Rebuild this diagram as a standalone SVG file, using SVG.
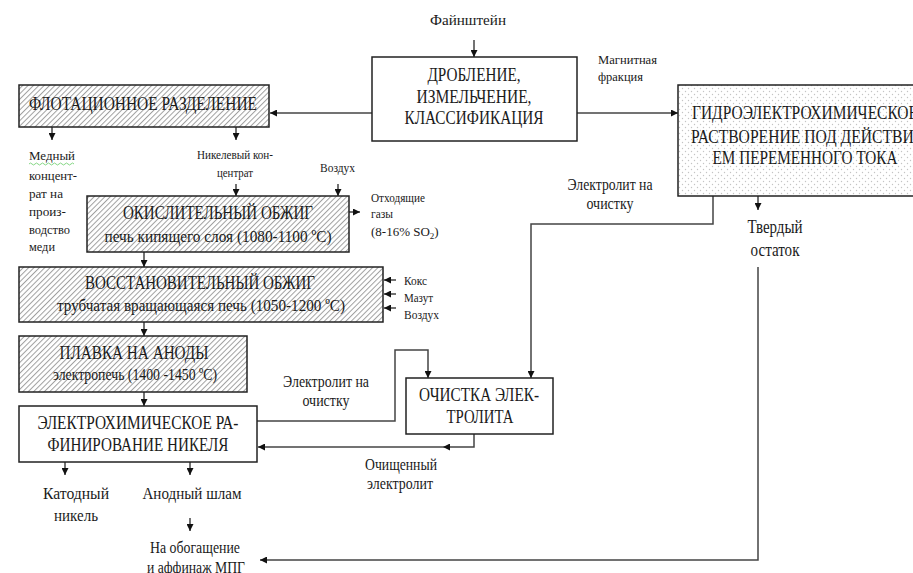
<svg xmlns="http://www.w3.org/2000/svg" width="913" height="573" viewBox="0 0 913 573" font-family="'Liberation Serif', 'DejaVu Serif', serif">
<style>
text{font-family:"Liberation Serif","DejaVu Serif",serif;fill:#1a1a1a}
.b{font-size:19px}
.m{font-size:17px}
.s{font-size:13px}
.l{font-size:16px}
.box{stroke:#222;stroke-width:1.5}
.c{fill:none;stroke:#444;stroke-width:1.5}
</style>
<defs>
<pattern id="hatch" patternUnits="userSpaceOnUse" width="3.8" height="8" patternTransform="rotate(45)">
<rect width="3.8" height="8" fill="#fff"/>
<line x1="0.5" y1="0" x2="0.5" y2="8" stroke="#a0a0a0" stroke-width="1"/>
</pattern>
<pattern id="dots" patternUnits="userSpaceOnUse" width="6" height="6">
<rect width="6" height="6" fill="#fff"/>
<circle cx="1.5" cy="1.5" r="0.7" fill="#c4c4c4"/>
<circle cx="4.5" cy="4.5" r="0.7" fill="#c4c4c4"/>
</pattern>
<marker id="ah" viewBox="0 0 10 10" refX="10" refY="5" markerWidth="7" markerHeight="7" markerUnits="userSpaceOnUse" orient="auto">
<path d="M0,0 L10,5 L0,10 z" fill="#111"/>
</marker>
</defs>
<rect width="913" height="573" fill="#fff"/>

<g id="connectors">
<line class="c" x1="474" y1="40" x2="474" y2="57" marker-end="url(#ah)"/>
<line class="c" x1="372" y1="113" x2="270" y2="113" marker-end="url(#ah)"/>
<line class="c" x1="577" y1="113" x2="678" y2="113" marker-end="url(#ah)"/>
<line class="c" x1="52" y1="127" x2="52" y2="140" marker-end="url(#ah)"/>
<line class="c" x1="236" y1="127" x2="236" y2="140" marker-end="url(#ah)"/>
<line class="c" x1="236" y1="184" x2="236" y2="196" marker-end="url(#ah)"/>
<line class="c" x1="338" y1="184" x2="338" y2="196" marker-end="url(#ah)"/>
<line class="c" x1="349" y1="212" x2="360" y2="212" marker-end="url(#ah)"/>
<line class="c" x1="144" y1="252" x2="144" y2="267" marker-end="url(#ah)"/>
<line class="c" x1="396" y1="280" x2="384" y2="280" marker-end="url(#ah)"/>
<line class="c" x1="396" y1="294" x2="384" y2="294" marker-end="url(#ah)"/>
<line class="c" x1="396" y1="308" x2="384" y2="308" marker-end="url(#ah)"/>
<line class="c" x1="144" y1="322" x2="144" y2="336" marker-end="url(#ah)"/>
<line class="c" x1="144" y1="392" x2="144" y2="406" marker-end="url(#ah)"/>
<line class="c" x1="65" y1="462" x2="65" y2="475" marker-end="url(#ah)"/>
<line class="c" x1="190" y1="462" x2="190" y2="475" marker-end="url(#ah)"/>
<line class="c" x1="190" y1="518" x2="190" y2="531" marker-end="url(#ah)"/>
<polyline class="c" points="257,421 395,421 395,350 428,350 428,378" marker-end="url(#ah)"/>
<polyline class="c" points="474,434 474,447 443,447" marker-end="url(#ah)"/>
<line class="c" x1="443" y1="447" x2="258" y2="447" marker-end="url(#ah)"/>
<polyline class="c" points="713,196 713,224 531,224 531,378" marker-end="url(#ah)"/>
<line class="c" x1="758" y1="196" x2="758" y2="210" marker-end="url(#ah)"/>
<polyline class="c" points="758,267 758,560 260,560" marker-end="url(#ah)"/>
</g>

<g id="n-feed">
<text class="s" x="468" y="25" text-anchor="middle" textLength="76" lengthAdjust="spacingAndGlyphs" style="font-size:14px">Файнштейн</text>
</g>

<g id="n-crush">
<rect class="box" x="372" y="57" width="205" height="84" fill="#fff"/>
<text class="b" x="474" y="81" text-anchor="middle" textLength="93" lengthAdjust="spacingAndGlyphs">ДРОБЛЕНИЕ,</text>
<text class="b" x="474" y="103" text-anchor="middle" textLength="115" lengthAdjust="spacingAndGlyphs">ИЗМЕЛЬЧЕНИЕ,</text>
<text class="b" x="474" y="124" text-anchor="middle" textLength="139" lengthAdjust="spacingAndGlyphs">КЛАССИФИКАЦИЯ</text>
</g>

<g id="l-magn">
<text class="s" x="598" y="64" textLength="59" lengthAdjust="spacingAndGlyphs">Магнитная</text>
<text class="s" x="598" y="81" textLength="45" lengthAdjust="spacingAndGlyphs">фракция</text>
</g>

<g id="n-flot">
<rect class="box" x="19" y="85" width="250" height="42" fill="url(#hatch)"/>
<text class="b" x="143" y="110" text-anchor="middle" textLength="228" lengthAdjust="spacingAndGlyphs">ФЛОТАЦИОННОЕ РАЗДЕЛЕНИЕ</text>
</g>

<g id="n-hydro">
<rect class="box" x="678" y="85" width="260" height="111" fill="url(#dots)"/>
<text class="b" x="805" y="119" text-anchor="middle" textLength="226" lengthAdjust="spacingAndGlyphs">ГИДРОЭЛЕКТРОХИМИЧЕСКОЕ</text>
<text class="b" x="805" y="143" text-anchor="middle" textLength="228" lengthAdjust="spacingAndGlyphs">РАСТВОРЕНИЕ ПОД ДЕЙСТВИ-</text>
<text class="b" x="805" y="164" text-anchor="middle" textLength="185" lengthAdjust="spacingAndGlyphs">ЕМ ПЕРЕМЕННОГО ТОКА</text>
</g>

<g id="l-copper">
<text class="s" x="29" y="160" textLength="46" lengthAdjust="spacingAndGlyphs">Медный</text>
<path d="M29,164 q1.5,-2 3,0 t3,0 t3,0 t3,0 t3,0 t3,0 t3,0 t3,0 t3,0 t3,0 t3,0 t3,0 t3,0 t3,0 t3,0" fill="none" stroke="#6c6" stroke-width="0.8"/>
<text class="s" x="29" y="180" textLength="48" lengthAdjust="spacingAndGlyphs">концент-</text>
<text class="s" x="29" y="198" textLength="34" lengthAdjust="spacingAndGlyphs">рат на</text>
<text class="s" x="29" y="216" textLength="37" lengthAdjust="spacingAndGlyphs">произ-</text>
<text class="s" x="29" y="234" textLength="41" lengthAdjust="spacingAndGlyphs">водство</text>
<text class="s" x="29" y="251" textLength="26" lengthAdjust="spacingAndGlyphs">меди</text>
</g>

<g id="l-nickel">
<text class="s" x="235" y="159" text-anchor="middle" textLength="76" lengthAdjust="spacingAndGlyphs">Никелевый кон-</text>
<text class="s" x="235" y="177" text-anchor="middle" textLength="36" lengthAdjust="spacingAndGlyphs">центрат</text>
<text class="s" x="320" y="172" textLength="35" lengthAdjust="spacingAndGlyphs">Воздух</text>
</g>

<g id="n-oxid">
<rect class="box" x="87" y="196" width="262" height="56" fill="url(#hatch)"/>
<text class="b" x="218" y="219" text-anchor="middle" textLength="190" lengthAdjust="spacingAndGlyphs">ОКИСЛИТЕЛЬНЫЙ ОБЖИГ</text>
<text class="m" x="218" y="242" text-anchor="middle" textLength="227" lengthAdjust="spacingAndGlyphs">печь кипящего слоя (1080-1100 ºС)</text>
</g>

<g id="l-gases">
<text class="s" x="371" y="202" textLength="54" lengthAdjust="spacingAndGlyphs">Отходящие</text>
<text class="s" x="371" y="218" textLength="22" lengthAdjust="spacingAndGlyphs">газы</text>
<text class="s" x="371" y="236">(8-16% SO<tspan font-size="9" dy="3">2</tspan><tspan dy="-3">)</tspan></text>
</g>

<g id="n-reduct">
<rect class="box" x="19" y="267" width="364" height="55" fill="url(#hatch)"/>
<text class="b" x="200" y="289" text-anchor="middle" textLength="230" lengthAdjust="spacingAndGlyphs">ВОССТАНОВИТЕЛЬНЫЙ ОБЖИГ</text>
<text class="m" x="201" y="311" text-anchor="middle" textLength="288" lengthAdjust="spacingAndGlyphs">трубчатая вращающаяся печь (1050-1200 ºС)</text>
</g>

<g id="l-fuel">
<text class="s" x="404" y="285" textLength="23" lengthAdjust="spacingAndGlyphs">Кокс</text>
<text class="s" x="404" y="302" textLength="29" lengthAdjust="spacingAndGlyphs">Мазут</text>
<text class="s" x="404" y="319" textLength="35" lengthAdjust="spacingAndGlyphs">Воздух</text>
</g>

<g id="n-smelt">
<rect class="box" x="19" y="336" width="228" height="56" fill="url(#hatch)"/>
<text class="b" x="134" y="359" text-anchor="middle" textLength="149" lengthAdjust="spacingAndGlyphs">ПЛАВКА НА АНОДЫ</text>
<text class="m" x="135" y="380" text-anchor="middle" textLength="164" lengthAdjust="spacingAndGlyphs">электропечь (1400 -1450 ºС)</text>
</g>

<g id="n-refine">
<rect class="box" x="19" y="406" width="238" height="56" fill="#fff"/>
<text class="b" x="138" y="429" text-anchor="middle" textLength="201" lengthAdjust="spacingAndGlyphs">ЭЛЕКТРОХИМИЧЕСКОЕ РА-</text>
<text class="b" x="138" y="451" text-anchor="middle" textLength="181" lengthAdjust="spacingAndGlyphs">ФИНИРОВАНИЕ НИКЕЛЯ</text>
</g>

<g id="l-electrolyte-left">
<text class="l" x="326" y="387" text-anchor="middle" textLength="86" lengthAdjust="spacingAndGlyphs">Электролит на</text>
<text class="l" x="326" y="406" text-anchor="middle" textLength="47" lengthAdjust="spacingAndGlyphs">очистку</text>
</g>

<g id="n-clean">
<rect class="box" x="406" y="378" width="147" height="56" fill="#fff"/>
<text class="b" x="479" y="401" text-anchor="middle" textLength="120" lengthAdjust="spacingAndGlyphs">ОЧИСТКА ЭЛЕК-</text>
<text class="b" x="480" y="423" text-anchor="middle" textLength="67" lengthAdjust="spacingAndGlyphs">ТРОЛИТА</text>
</g>

<g id="l-purified">
<text class="l" x="401" y="470" text-anchor="middle" textLength="72" lengthAdjust="spacingAndGlyphs">Очищенный</text>
<text class="l" x="400" y="489" text-anchor="middle" textLength="66" lengthAdjust="spacingAndGlyphs">электролит</text>
</g>

<g id="l-electrolyte-right">
<text class="l" x="610" y="190" text-anchor="middle" textLength="85" lengthAdjust="spacingAndGlyphs">Электролит на</text>
<text class="l" x="610" y="209" text-anchor="middle" textLength="47" lengthAdjust="spacingAndGlyphs">очистку</text>
</g>

<g id="l-solid">
<text class="b" x="775" y="233" text-anchor="middle" textLength="55" lengthAdjust="spacingAndGlyphs" style="font-size:18px">Твердый</text>
<text class="b" x="775" y="256" text-anchor="middle" textLength="49" lengthAdjust="spacingAndGlyphs" style="font-size:18px">остаток</text>
</g>

<g id="l-cathode">
<text class="m" x="76" y="499" text-anchor="middle" textLength="66" lengthAdjust="spacingAndGlyphs">Катодный</text>
<text class="m" x="76" y="521" text-anchor="middle" textLength="44" lengthAdjust="spacingAndGlyphs">никель</text>
</g>

<g id="l-slime">
<text class="m" x="192" y="499" text-anchor="middle" textLength="99" lengthAdjust="spacingAndGlyphs">Анодный шлам</text>
</g>

<g id="l-pgm">
<text class="m" x="195" y="553" text-anchor="middle" textLength="90" lengthAdjust="spacingAndGlyphs">На обогащение</text>
<text class="m" x="196" y="573" text-anchor="middle" textLength="98" lengthAdjust="spacingAndGlyphs">и аффинаж МПГ</text>
</g>
</svg>
